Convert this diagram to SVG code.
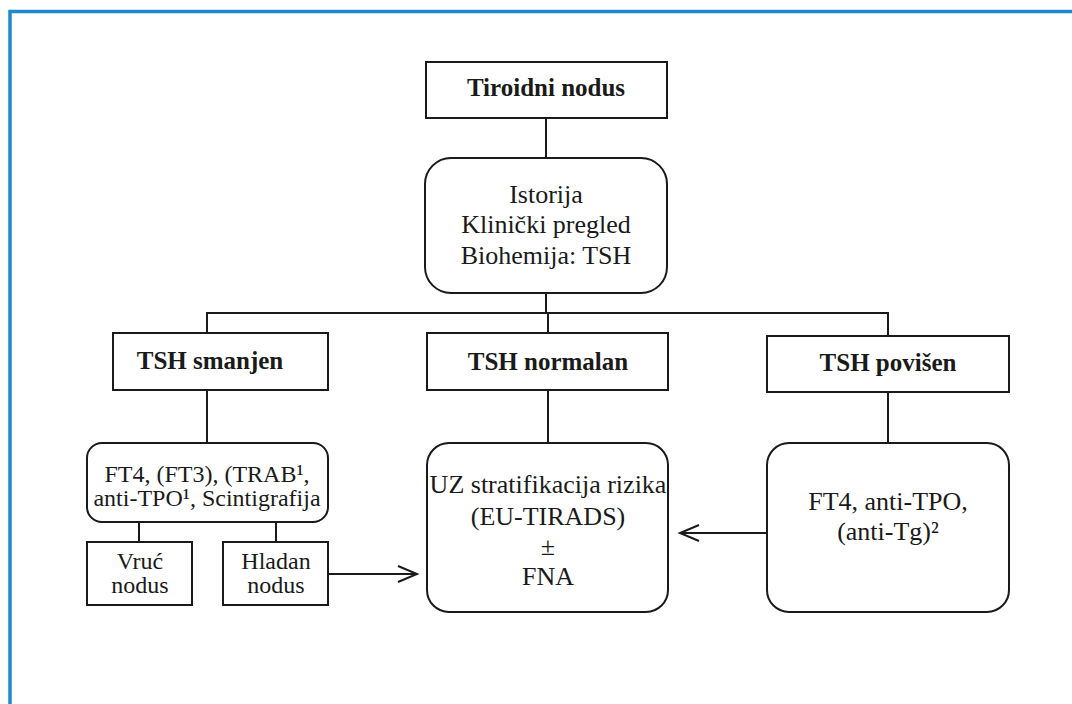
<svg xmlns="http://www.w3.org/2000/svg" width="1072" height="704" viewBox="0 0 1072 704">
  <style>
    .box { fill: #ffffff; stroke: #1a1a1a; stroke-width: 2; }
    .line { fill: none; stroke: #1a1a1a; stroke-width: 2; }
    .txt { font-family: "Liberation Serif", "Times New Roman", serif; fill: #1a1a1a; text-anchor: middle; }
    .b { font-weight: bold; font-size: 25px; }
    .r { font-size: 26px; }
    .s { font-size: 24px; }
  </style>
  <defs>
    <marker id="open" markerWidth="24" markerHeight="20" refX="20" refY="9" orient="auto" markerUnits="userSpaceOnUse">
      <path d="M1,1 L20,9 L1,17" fill="none" stroke="#1a1a1a" stroke-width="2"/>
    </marker>
  </defs>

  <rect width="1072" height="704" fill="#ffffff"/>
  <!-- frame -->
  <path d="M10,704 V11.5 H1072" fill="none" stroke="#1f8ac9" stroke-width="3.5"/>

  <!-- connectors -->
  <g id="connectors">
    <path class="line" d="M546,118 V158"/>
    <path class="line" d="M546,293 V313"/>
    <path class="line" d="M207,333 V313 H888 V336"/>
    <path class="line" d="M548,313 V333"/>
    <path class="line" d="M207,390 V443"/>
    <path class="line" d="M548,390 V443"/>
    <path class="line" d="M888,392 V443"/>
    <path class="line" d="M139,522 V542"/>
    <path class="line" d="M276,522 V542"/>
    <path class="line" d="M328,574 H417" marker-end="url(#open)"/>
    <path class="line" d="M767,533 H680" marker-end="url(#open)"/>
  </g>

  <g id="tiroidni">
    <rect class="box" x="426" y="62" width="241" height="56"/>
    <text class="txt b" x="546" y="96">Tiroidni nodus</text>
  </g>

  <g id="istorija">
    <rect class="box" x="425" y="158" width="242" height="135" rx="26" ry="26"/>
    <text class="txt r" x="546" y="203">Istorija</text>
    <text class="txt r" x="546" y="233">Klinički pregled</text>
    <text class="txt r" x="546" y="264">Biohemija: TSH</text>
  </g>

  <g id="tsh-smanjen">
    <rect class="box" x="113" y="333" width="215" height="57"/>
    <text class="txt b" x="210" y="369">TSH smanjen</text>
  </g>

  <g id="tsh-normalan">
    <rect class="box" x="427" y="333" width="241" height="57"/>
    <text class="txt b" x="548" y="370">TSH normalan</text>
  </g>

  <g id="tsh-povisen">
    <rect class="box" x="767" y="336" width="242" height="56"/>
    <text class="txt b" x="888" y="371">TSH povišen</text>
  </g>

  <g id="ft4-trab">
    <rect class="box" x="87" y="443" width="241" height="79" rx="15" ry="15"/>
    <text class="txt s" x="207" y="482">FT4, (FT3), (TRAB¹,</text>
    <text class="txt s" x="207" y="506">anti-TPO¹, Scintigrafija</text>
  </g>

  <g id="vruc">
    <rect class="box" x="87" y="542" width="105" height="63"/>
    <text class="txt s" x="140" y="569">Vruć</text>
    <text class="txt s" x="140" y="593">nodus</text>
  </g>

  <g id="hladan">
    <rect class="box" x="223" y="542" width="105" height="63"/>
    <text class="txt s" x="276" y="569">Hladan</text>
    <text class="txt s" x="276" y="593">nodus</text>
  </g>

  <g id="uz">
    <rect class="box" x="427" y="443" width="241" height="169" rx="22" ry="22"/>
    <text class="txt r" x="548" y="493">UZ stratifikacija rizika</text>
    <text class="txt r" x="548" y="525">(EU-TIRADS)</text>
    <text class="txt r" x="548" y="555">±</text>
    <text class="txt r" x="548" y="585">FNA</text>
  </g>

  <g id="ft4-anti">
    <rect class="box" x="767" y="443" width="242" height="169" rx="22" ry="22"/>
    <text class="txt r" x="888" y="510">FT4, anti-TPO,</text>
    <text class="txt r" x="888" y="540">(anti-Tg)²</text>
  </g>
</svg>
